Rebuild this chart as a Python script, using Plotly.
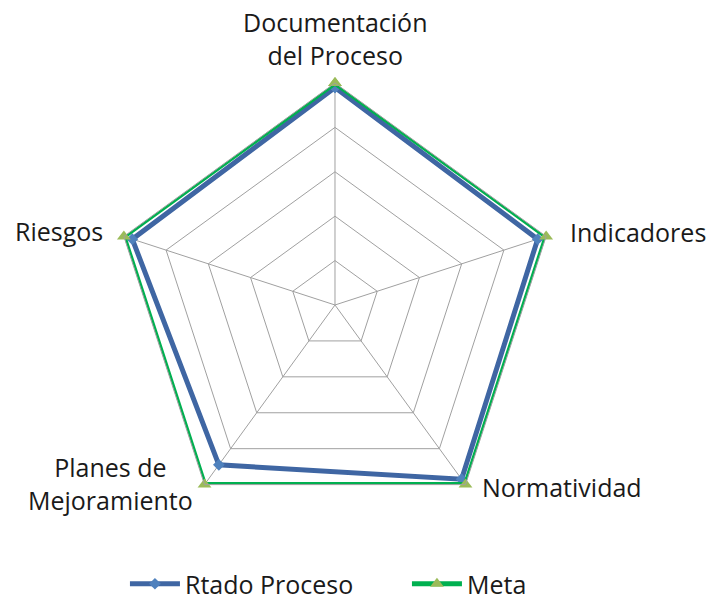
import plotly.graph_objects as go

categorias = ["Documentación<br>del Proceso", "Indicadores", "Normatividad",
              "Planes de<br>Mejoramiento", "Riesgos"]
rtado_proceso = [98, 96, 97, 89, 96]
meta = [100, 100, 100, 100, 100]

def cerrar(v):
    return list(v) + [v[0]]

fig = go.Figure()
fig.add_trace(go.Scatterpolar(
    r=cerrar(rtado_proceso), theta=cerrar(categorias), name="Rtado Proceso",
    mode="lines+markers",
    line=dict(color="#3F66A3", width=5),
    marker=dict(symbol="diamond", size=9, color="#4F81BD"),
))
fig.add_trace(go.Scatterpolar(
    r=cerrar(meta), theta=cerrar(categorias), name="Meta",
    mode="lines+markers",
    line=dict(color="#00B050", width=5),
    marker=dict(symbol="triangle-up", size=12, color="#9BBB59"),
))

# category label placement (paper coords), text taken from categorias
label_pos = [
    (0.4692, 0.9366, "center"),
    (0.7955, 0.6178, "left"),
    (0.6723, 0.1977, "left"),
    (0.1541, 0.2035, "center"),
    (0.1471, 0.6194, "right"),
]
annotations = [
    dict(text=cat, x=x, y=y, xref="paper", yref="paper", xanchor=xa,
         yanchor="middle", showarrow=False, align="center",
         font=dict(size=25, family="Open Sans", color="#1a1a1a"))
    for cat, (x, y, xa) in zip(categorias, label_pos)
]

fig.update_layout(
    width=714, height=607,
    margin=dict(l=0, r=0, t=0, b=0),
    paper_bgcolor="white",
    font=dict(family="Open Sans", size=25, color="#1a1a1a"),
    polar=dict(
        domain=dict(x=[0.15826, 0.78011], y=[0.13180, 0.86326]),
        bgcolor="white",
        gridshape="linear",
        angularaxis=dict(direction="clockwise", rotation=90,
                         showline=True, linecolor="#A0A0A0", linewidth=1,
                         gridcolor="#A0A0A0", gridwidth=1,
                         ticks="", showticklabels=False),
        radialaxis=dict(range=[0, 100], dtick=20, showticklabels=False,
                        ticks="", showline=False,
                        gridcolor="#A0A0A0", gridwidth=1),
    ),
    annotations=annotations,
    legend=dict(orientation="h", x=0.175, xanchor="left", y=0,
                yanchor="bottom", font=dict(size=25), itemwidth=50,
                entrywidth=217, entrywidthmode="pixels"),
)

fig.write_html("out.html", config={"displayModeBar": False},
               post_script="document.body.style.margin='0px';")
